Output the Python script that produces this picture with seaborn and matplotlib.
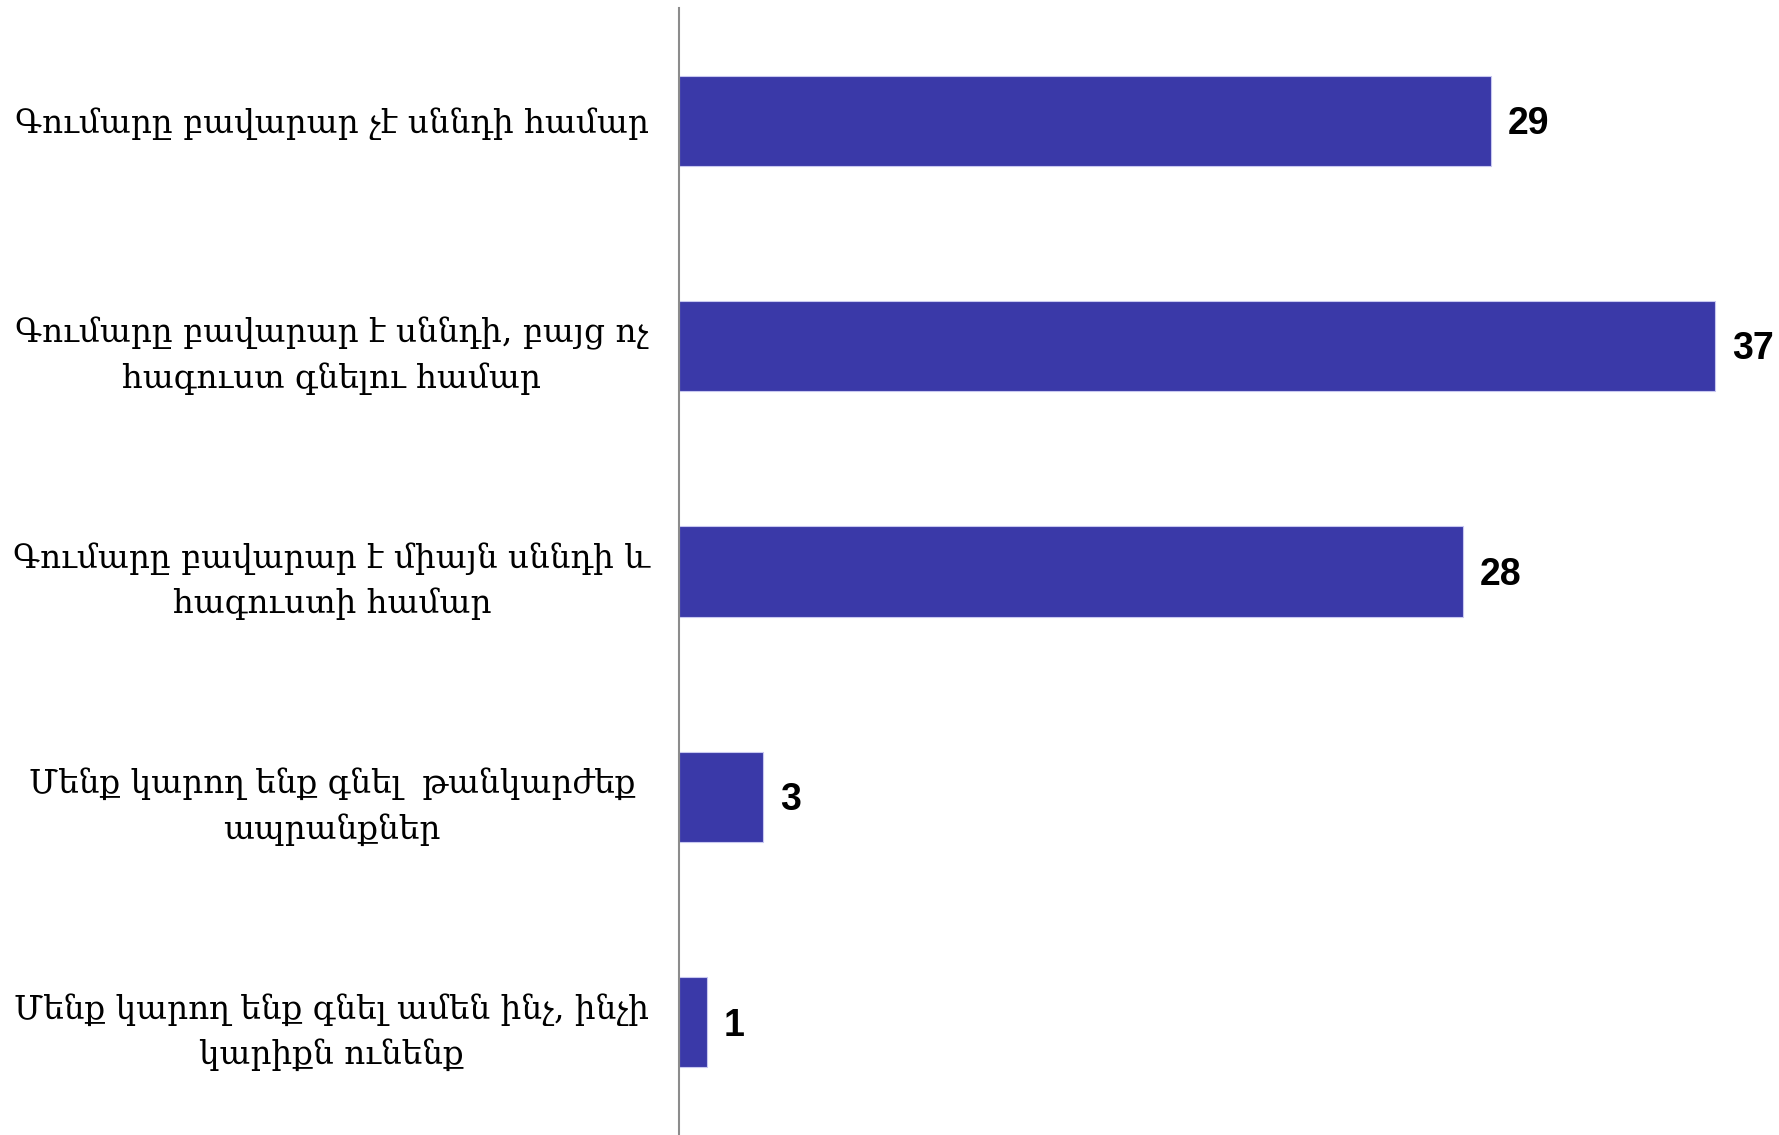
import matplotlib
matplotlib.use("Agg")
import matplotlib.pyplot as plt
import seaborn as sns
import pandas as pd

categories = [
    "Գումարը բավարար չէ սննդի համար",
    "Գումարը բավարար է սննդի, բայց ոչ\nհագուստ գնելու համար",
    "Գումարը բավարար է միայն սննդի և\nհագուստի համար",
    "Մենք կարող ենք գնել  թանկարժեք\nապրանքներ",
    "Մենք կարող ենք գնել ամեն ինչ, ինչի\nկարիքն ունենք",
]
values = [29, 37, 28, 3, 1]

df = pd.DataFrame({"answer": categories, "share": values})

sns.set_style("white")
plt.rcParams['font.family'] = ['DejaVu Serif', 'DejaVu Sans']

fig = plt.figure(figsize=(17.79, 11.35), dpi=100)
ax = fig.add_axes([0.3817, 0.0, 0.6183, 0.993])

sns.barplot(data=df, y="answer", x="share", orient="h", color="#3A39A8",
            width=0.4, edgecolor="#c8c8f0", linewidth=0.8, saturation=1, ax=ax)

ax.set_xlim(0, 39.29)
ax.set_ylim(4.5, -0.5)
ax.set_xlabel("")
ax.set_ylabel("")
ax.set_xticks([])

# value labels
for i, v in enumerate(values):
    ax.text(v + 0.6, i + 0.015, str(v), va="center", ha="left", fontsize=27,
            fontweight="bold", family="Liberation Sans", color="black")

ax.tick_params(axis="y", length=0, pad=250, colors="black")
for lab in ax.get_yticklabels():
    lab.set_horizontalalignment("center")
    lab.set_multialignment("center")
    lab.set_fontsize(23.5)
    lab.set_linespacing(1.5)
    lab.set_color("black")

for s in ["top", "right", "bottom"]:
    ax.spines[s].set_visible(False)
ax.spines["left"].set_color("#8c8c8c")
ax.spines["left"].set_linewidth(1.5)

fig.savefig("out.png", dpi=100)
